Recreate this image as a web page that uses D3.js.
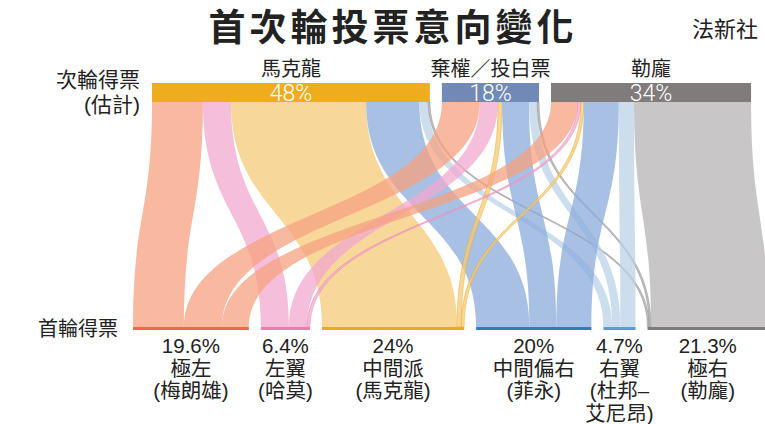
<!DOCTYPE html>
<html>
<head>
<meta charset="utf-8">
<script src="https://cdn.jsdelivr.net/npm/d3@7"></script>
<style>
  body { margin: 0; background: #fff; }
  svg { display: block; font-family: "Liberation Sans", "Noto Sans CJK TC", sans-serif; }
</style>
</head>
<body>
<script>
// second round vote (estimate) -> first round vote
const sources = ["馬克龍", "棄權／投白票", "勒龐"];
const sourcePct = ["48%", "18%", "34%"];
const targets = ["極左", "左翼", "中間派", "中間偏右", "右翼", "極右"];
const targetPct = ["19.6%", "6.4%", "24%", "20%", "4.7%", "21.3%"];
const targetWho = [["(梅朗雄)"], ["(哈莫)"], ["(馬克龍)"], ["(菲永)"], ["(杜邦–", "艾尼昂)"], ["(勒龐)"]];

// flows from each second-round choice to first-round families (% of voters)
const flowsMacron = [8.7, 4.8, 23.1, 9.1, 1.5, 0.3];
const flowsBlank = [6.5, 3.1, 0.7, 4.6, 1.4, 0.3];
const flowsLePen = [4.6, 0.5, 0.5, 6.0, 2.6, 20.0];

const sourceColors = ["#efac1f", "#7189b6", "#807c7c"];
const targetColors = ["#ec6a4c", "#ea7fae", "#f0a91e", "#2a7fc1", "#5f9bd0", "#7f7b7b"];
const flowColors = ["#f5a280", "#f2a8cf", "#f4c978", "#8babdb", "#bbd3e8", "#b6b3b4"];

const W = 765, H = 424;
const yTop = 102, yBot = 327, gap = 12;

const svg = d3.select("body").append("svg")
    .attr("width", W)
    .attr("height", H);

const matrix = [flowsMacron, flowsBlank, flowsLePen];
const w = d3.scaleLinear().domain([0, 100]).range([0, 585]);

// node extents
let x = 152;
const srcNodes = matrix.map(row => {
    const n = {x0: x, x1: x + w(d3.sum(row))};
    n.cur = n.x0;
    x = n.x1 + gap;
    return n;
});
x = 133;
const tgtNodes = targets.map((t, j) => {
    const n = {x0: x, x1: x + w(d3.sum(matrix, r => r[j]))};
    n.cur = n.x0;
    x = n.x1 + gap;
    return n;
});

const links = [];
matrix.forEach((row, i) => {
    row.forEach((v, j) => {
        const s = srcNodes[i], t = tgtNodes[j];
        const lw = w(v);
        links.push({i, j, v, sx0: s.cur, sx1: s.cur + lw, tx0: t.cur, tx1: t.cur + lw});
        s.cur += lw;
        t.cur += lw;
    });
});

const ym = (yTop + yBot) / 2;
function ribbon(d) {
    return `M${d.sx0},${yTop}C${d.sx0},${ym} ${d.tx0},${ym} ${d.tx0},${yBot}` +
        `L${d.tx1},${yBot}C${d.tx1},${ym} ${d.sx1},${ym} ${d.sx1},${yTop}Z`;
}

svg.append("g").selectAll("path")
    .data(links)
    .join("path")
    .attr("d", ribbon)
    .attr("fill", d => flowColors[d.j])
    .attr("fill-opacity", 0.75)
    .attr("stroke", d => d.v < 1 ? targetColors[d.j] : "none")
    .attr("stroke-width", 0.8)
    .attr("stroke-opacity", 0.6);

// top bars
const topG = svg.append("g");
topG.selectAll("rect")
    .data(srcNodes)
    .join("rect")
    .attr("x", d => d.x0)
    .attr("y", 83)
    .attr("width", d => d.x1 - d.x0)
    .attr("height", yTop - 83)
    .attr("fill", (d, i) => sourceColors[i]);
topG.selectAll("text.pct")
    .data(srcNodes)
    .join("text")
    .attr("class", "pct")
    .attr("x", d => (d.x0 + d.x1) / 2)
    .attr("y", 101)
    .attr("text-anchor", "middle")
    .attr("fill", "#fff")
    .attr("font-family", "Roboto, 'Liberation Sans', sans-serif")
    .attr("font-size", 23)
    .attr("font-weight", 300)
    .text((d, i) => sourcePct[i]);
topG.selectAll("text.name")
    .data(srcNodes)
    .join("text")
    .attr("class", "name")
    .attr("x", d => (d.x0 + d.x1) / 2)
    .attr("y", 76)
    .attr("text-anchor", "middle")
    .attr("fill", "#222")
    .attr("font-size", 20)
    .text((d, i) => sources[i]);

// bottom bars + labels
const botG = svg.append("g");
botG.selectAll("rect")
    .data(tgtNodes)
    .join("rect")
    .attr("x", d => d.x0)
    .attr("y", yBot)
    .attr("width", d => d.x1 - d.x0)
    .attr("height", 3)
    .attr("fill", (d, j) => targetColors[j]);

botG.selectAll("g.lbl")
    .data(tgtNodes)
    .join("g")
    .attr("class", "lbl")
    .each(function (d, j) {
        const lines = [targetPct[j], targets[j]].concat(targetWho[j]);
        d3.select(this).selectAll("text")
            .data(lines)
            .join("text")
            .attr("x", (d.x0 + d.x1) / 2)
            .attr("y", (l, k) => 353 + k * 22.7)
            .attr("text-anchor", "middle")
            .attr("fill", "#222")
            .attr("font-size", 20.5)
            .text(l => l);
    });

// side labels
svg.append("text")
    .attr("x", 140).attr("y", 87)
    .attr("text-anchor", "end")
    .attr("font-size", 21).attr("fill", "#222")
    .text("次輪得票");
svg.append("text")
    .attr("x", 140).attr("y", 112)
    .attr("text-anchor", "end")
    .attr("font-size", 21).attr("fill", "#222")
    .text("(估計)");
svg.append("text")
    .attr("x", 118).attr("y", 336)
    .attr("text-anchor", "end")
    .attr("font-size", 20).attr("fill", "#222")
    .text("首輪得票");

// title
svg.append("text")
    .attr("x", 393).attr("y", 41)
    .attr("text-anchor", "middle")
    .attr("font-family", "'Noto Sans CJK TC', sans-serif")
    .attr("font-size", 37)
    .attr("font-weight", 700)
    .attr("letter-spacing", 4)
    .attr("fill", "#222")
    .text("首次輪投票意向變化");
svg.append("text")
    .attr("x", 758).attr("y", 37)
    .attr("text-anchor", "end")
    .attr("font-size", 22)
    .attr("fill", "#222")
    .text("法新社");
</script>
</body>
</html>
